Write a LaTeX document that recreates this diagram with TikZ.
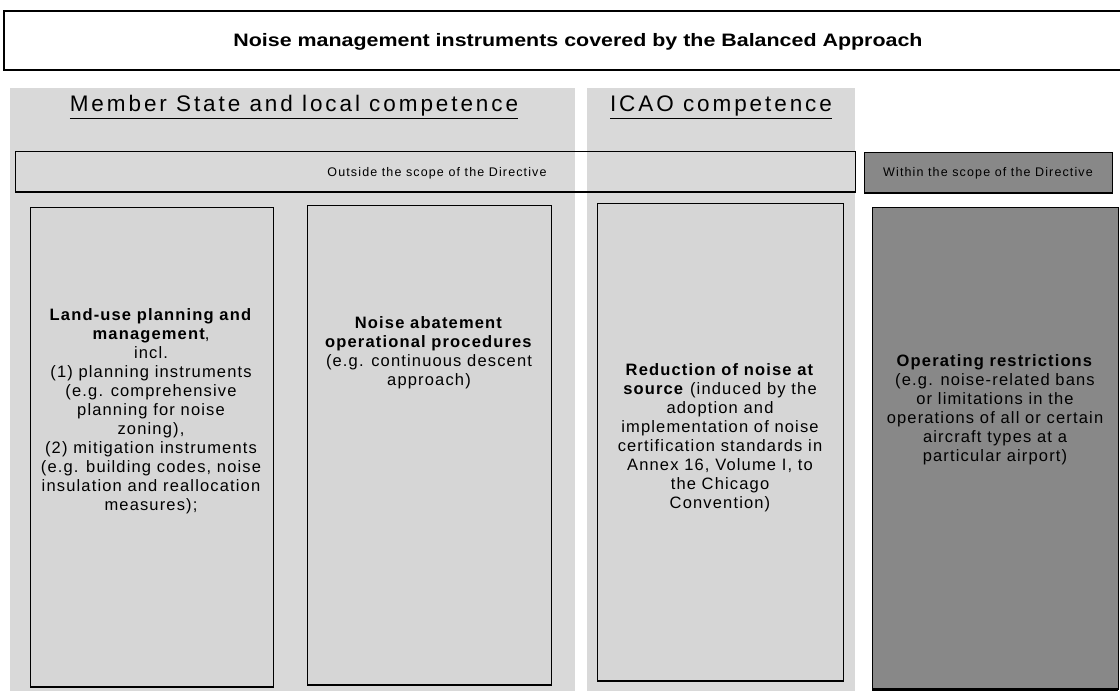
\documentclass[tikz,border=0pt]{standalone}
\usepackage{fontspec}
\setmainfont{Liberation Sans}
\definecolor{panel}{RGB}{217,217,217}
\definecolor{inner}{RGB}{214,214,214}
\definecolor{darkbox}{RGB}{136,136,136}
\begin{document}
\begin{tikzpicture}[x=1pt,y=-1pt,
  panelbox/.style={fill=panel,draw=none},
  innerbox/.style={fill=inner,draw=black,line width=0.8pt},
  darkinner/.style={fill=darkbox,draw=black,line width=0.8pt},
  bodytext/.style={align=center,font=\addfontfeatures{LetterSpace=7}\fontsize{16.5}{19}\selectfont,inner sep=0pt},
  hdr/.style={font=\addfontfeatures{LetterSpace=13}\fontsize{22.5}{26}\selectfont,inner sep=0pt},
  smalltext/.style={font=\addfontfeatures{LetterSpace=9}\fontsize{12.5}{14}\selectfont,inner sep=0pt}]
\useasboundingbox (0,0) rectangle (1120,691);
% title
\draw[line width=2pt] (1130,11) -- (4,11) -- (4,70) -- (1130,70);
\node[font=\bfseries\fontsize{18}{20}\selectfont,inner sep=0pt] (title) at (578,42) {\scalebox{1.19}[1]{Noise management instruments covered by the Balanced Approach}};
% panels
\path[panelbox] (10,88) rectangle (575,691);
\path[panelbox] (587,88) rectangle (855,691);
\node[hdr,anchor=base] (hdrA) at (294,111) {\underline{Member State and local competence\rule[-6pt]{0pt}{1pt}}};
\node[hdr,anchor=base] (hdrB) at (721,111) {\underline{ICAO competence\rule[-6pt]{0pt}{1pt}}};
% scope bars
\draw[line width=0.8pt] (15,151) rectangle (855,192);
\draw[line width=2pt] (15,192) -- (855,192);
\node[smalltext] (outside) at (437,173) {Outside the scope of the Directive};
\draw[darkinner] (864,152) rectangle (1112,193);
\draw[line width=2pt] (864,193) -- (1112,193);
\node[smalltext] (within) at (988,173) {Within the scope of the Directive};
% inner boxes
\draw[innerbox] (30,207) rectangle (273,687);
\draw[line width=2.5pt] (30,687) -- (273,687);
\draw[innerbox] (307,205) rectangle (551,685);
\draw[line width=2pt] (307,685) -- (551,685);
\draw[innerbox] (597,203) rectangle (843,681);
\draw[line width=1.5pt] (597,681) -- (843,681);
\draw[darkinner] (872,207) rectangle (1118,689);
\draw[line width=3pt] (872,689) -- (1118,689);
% texts
\node[bodytext] (textA) at (151,411) {\textbf{Land-use planning and}\\\textbf{management},\\incl.\\(1) planning instruments\\(e.g. comprehensive\\planning for noise\\zoning),\\(2) mitigation instruments\\(e.g. building codes, noise\\insulation and reallocation\\measures);};
\node[bodytext] (textB) at (429,353) {\textbf{Noise abatement}\\\textbf{operational procedures}\\(e.g. continuous descent\\approach)};
\node[bodytext] (textC) at (720,438) {\textbf{Reduction of noise at}\\\textbf{source} (induced by the\\adoption and\\implementation of noise\\certification standards in\\Annex 16, Volume I, to\\the Chicago\\Convention)};
\node[bodytext] (textD) at (995,410) {\textbf{Operating restrictions}\\(e.g. noise-related bans\\or limitations in the\\operations of all or certain\\aircraft types at a\\particular airport)};
\end{tikzpicture}
\end{document}
